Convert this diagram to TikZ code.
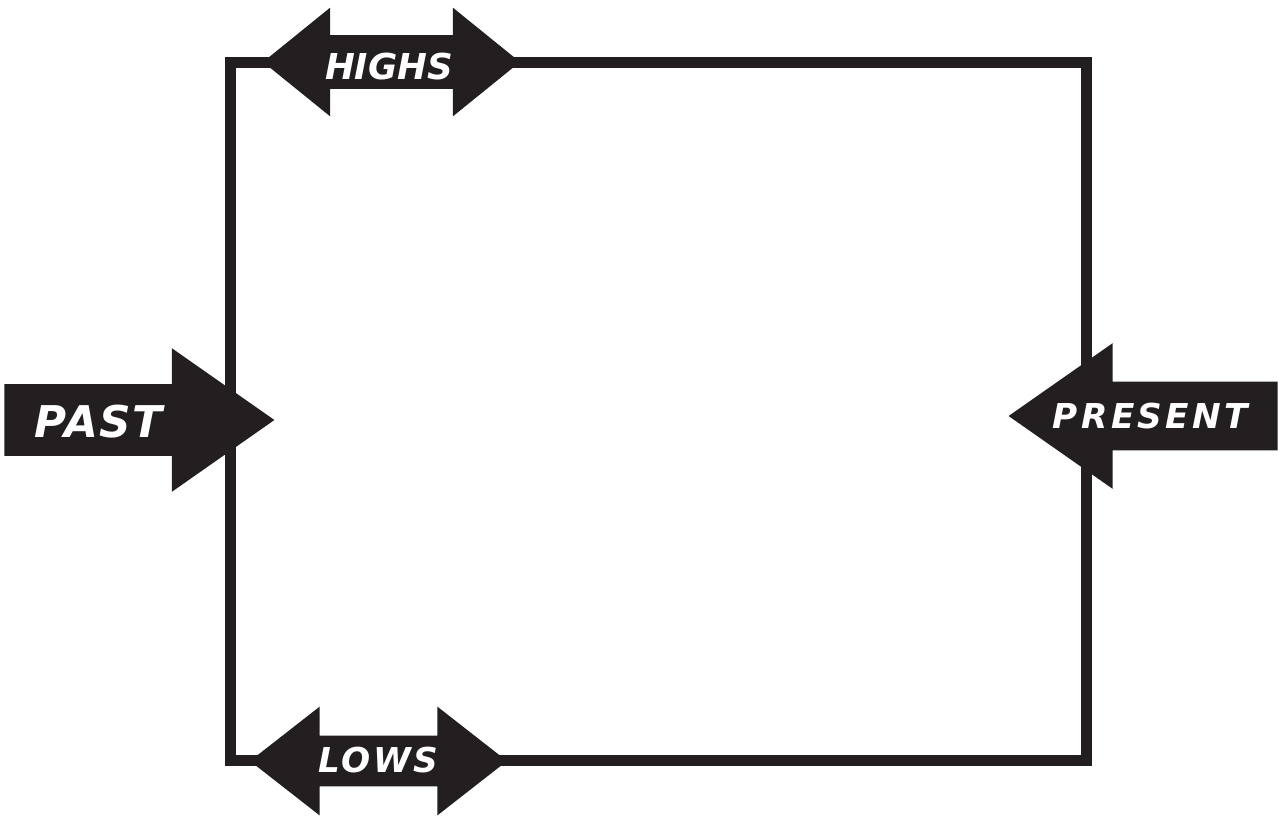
\documentclass[tikz,border=0pt]{standalone}
\usepackage{fontspec}
\newfontfamily\handfont{DejaVu Sans}[ItalicFont={DejaVu Sans Oblique}, BoldItalicFont={DejaVu Sans Bold Oblique}]
\usetikzlibrary{shapes.arrows}
\definecolor{inkBlack}{RGB}{35,31,32}
% frame edges (picture units, y downwards)
\def\frameW{230}
\def\frameE{1087}
\def\frameN{62}
\def\frameS{761}

\begin{document}
\begin{tikzpicture}[
    x=0.02cm, y=-0.02cm,
    frameBox/.style ={draw=inkBlack, line width=0.22cm, rectangle, inner sep=0pt},
    tagArrow/.style ={fill=inkBlack, draw=none, inner xsep=0pt},
    oneWay/.style   ={tagArrow, single arrow, single arrow tip angle=70, anchor=tip},
    twoWay/.style   ={tagArrow, double arrow, anchor=center},
    tagLabel/.style ={text=white, inner sep=0pt, anchor=base},
]
\useasboundingbox (0,0) rectangle (1281,816);

% the frame
\node[frameBox, minimum width=17.14cm, minimum height=13.98cm]
      (frame) at ({(\frameW+\frameE)/2},{(\frameN+\frameS)/2}) {};

% left and right arrows
\node[oneWay, inner ysep=0.71cm, minimum width=2.86cm, minimum height=5.40cm,
      single arrow head extend=0.72cm]
      (pastArrow) at (275,420) {};
\node[oneWay, shape border rotate=180, inner ysep=0.68cm, minimum width=2.9cm,
      minimum height=5.38cm, single arrow head extend=0.77cm]
      (presentArrow) at (1008,416) {};

% top and bottom double arrows
\node[twoWay, double arrow tip angle=78, inner ysep=0.53cm, minimum width=2.16cm,
      minimum height=5.14cm, double arrow head extend=0.55cm]
      (highsArrow) at (391.5,\frameN) {};
\node[twoWay, double arrow tip angle=76, inner ysep=0.5cm, minimum width=2.16cm,
      minimum height=5.14cm, double arrow head extend=0.58cm]
      (lowsArrow) at (378.5,\frameS) {};

% labels
\node[tagLabel, font=\handfont\bfseries\itshape\fontsize{24.9}{26}\selectfont\addfontfeatures{LetterSpace=4}]
      (pastLabel) at (98.5,437) {PAST};
\node[tagLabel, font=\handfont\bfseries\itshape\fontsize{19.5}{21}\selectfont\addfontfeatures{LetterSpace=10}]
      (presentLabel) at (1150.5,428) {PRESENT};
\node[tagLabel, font=\handfont\bfseries\itshape\fontsize{20.3}{22}\selectfont]
      (highsLabel) at (389,79) {HIGHS};
\node[tagLabel, font=\handfont\bfseries\itshape\fontsize{19.5}{21}\selectfont\addfontfeatures{LetterSpace=7}]
      (lowsLabel) at (378.5,772) {LOWS};

\end{tikzpicture}
\end{document}
